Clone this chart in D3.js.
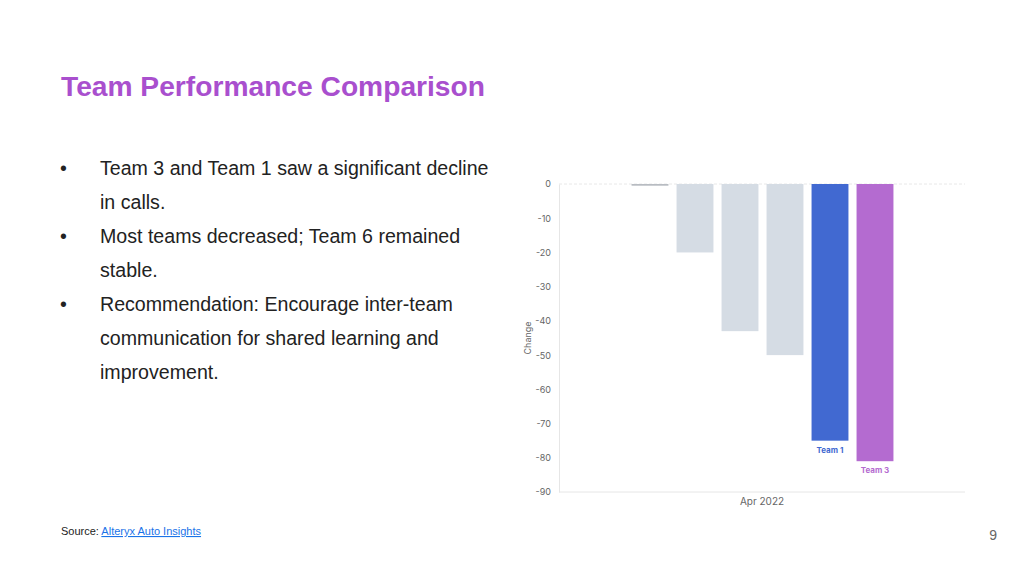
<!DOCTYPE html>
<html><head><meta charset="utf-8">
<script src="https://cdn.jsdelivr.net/npm/d3@7"></script>
<style>body{margin:0;background:#fff}svg{display:block}</style>
</head><body>
<script>
var teams = ["Team 8", "Team 6", "Team 5", "Team 4", "Team 2", "Team 1", "Team 3", "Team 7"];
var changes = [0, -0.5, -20, -43, -50, -75, -81, 0];
var yTicks = [0, -10, -20, -30, -40, -50, -60, -70, -80, -90];
var bullets = [
  ["Team 3 and Team 1 saw a significant decline", "in calls."],
  ["Most teams decreased; Team 6 remained", "stable."],
  ["Recommendation: Encourage inter-team", "communication for shared learning and", "improvement."]
];
var colors = {"Team 1": "#4169d1", "Team 3": "#b46bd0"};

var svg = d3.select("body").append("svg").attr("width", 1024).attr("height", 576)
  .style("font-family", "Liberation Sans, Arial, sans-serif");

svg.append("text").attr("x", 61).attr("y", 96).attr("fill", "#a94fce")
  .attr("font-size", 28.2).attr("font-weight", "bold").text("Team Performance Comparison");

var ly = 175;
bullets.forEach(function (b) {
  svg.append("text").attr("x", 60).attr("y", ly).attr("font-size", 19.6).attr("fill", "#222").text("•");
  b.forEach(function (line) {
    svg.append("text").attr("x", 100).attr("y", ly).attr("font-size", 19.6).attr("fill", "#222").text(line);
    ly += 34;
  });
});

var src = svg.append("text").attr("x", 61).attr("y", 535).attr("font-size", 11).attr("fill", "#222");
src.append("tspan").text("Source: ");
src.append("tspan").attr("fill", "#1a73e8").attr("text-decoration", "underline").text("Alteryx Auto Insights");
svg.append("text").attr("x", 997).attr("y", 540).attr("text-anchor", "end").attr("font-size", 14).attr("fill", "#666").text("9");

var font2 = "Inter, Roboto, sans-serif";
var y = d3.scaleLinear().domain([-90, 0]).range([492, 184]);
var x = d3.scaleBand().domain(teams).range([582.5, 942.5]).paddingInner(0.18).paddingOuter(0.09);

var yAxis = svg.append("g").attr("transform", "translate(559,0)")
  .call(d3.axisLeft(y).tickValues(yTicks).tickSize(0).tickPadding(8).tickFormat(d3.format("d")));
yAxis.select(".domain").attr("stroke", "#e6e6e6");
yAxis.selectAll("text").attr("fill", "#666").attr("font-size", 9).attr("font-family", font2)
  .text(function (d) { return d === 0 ? "0" : "-" + Math.abs(d); });

svg.append("line").attr("x1", 559).attr("x2", 965).attr("y1", y(-90)).attr("y2", y(-90)).attr("stroke", "#e6e6e6");
svg.append("line").attr("x1", 559).attr("x2", 965).attr("y1", y(0)).attr("y2", y(0))
  .attr("stroke", "#e8e8e8").attr("stroke-dasharray", "3,2");

svg.selectAll("rect.bar").data(teams).enter().append("rect").attr("class", "bar")
  .attr("x", function (d) { return x(d); })
  .attr("width", x.bandwidth())
  .attr("y", y(0))
  .attr("height", function (d, i) { return Math.max(y(changes[i]) - y(0), changes[i] === 0 ? 0 : 1); })
  .attr("fill", function (d, i) { return colors[d] || (Math.abs(changes[i]) < 1 ? "#b8bcc2" : "#d5dce4"); });

svg.selectAll("text.lab").data(teams.filter(function (d) { return colors[d]; })).enter().append("text")
  .attr("x", function (d) { return x(d) + x.bandwidth() / 2; })
  .attr("y", function (d) { return y(changes[teams.indexOf(d)]) + 12; })
  .attr("text-anchor", "middle").attr("font-size", 8).attr("font-weight", "bold")
  .attr("font-family", font2).attr("fill", function (d) { return colors[d]; }).text(function (d) { return d; });

svg.append("text").attr("x", 762).attr("y", 505).attr("text-anchor", "middle").attr("font-size", 10)
  .attr("font-family", font2).attr("fill", "#666").text("Apr 2022");
svg.append("text").attr("transform", "translate(531,338) rotate(-90)").attr("text-anchor", "middle")
  .attr("font-size", 9).attr("font-family", font2).attr("fill", "#666").text("Change");
</script>
</body></html>
